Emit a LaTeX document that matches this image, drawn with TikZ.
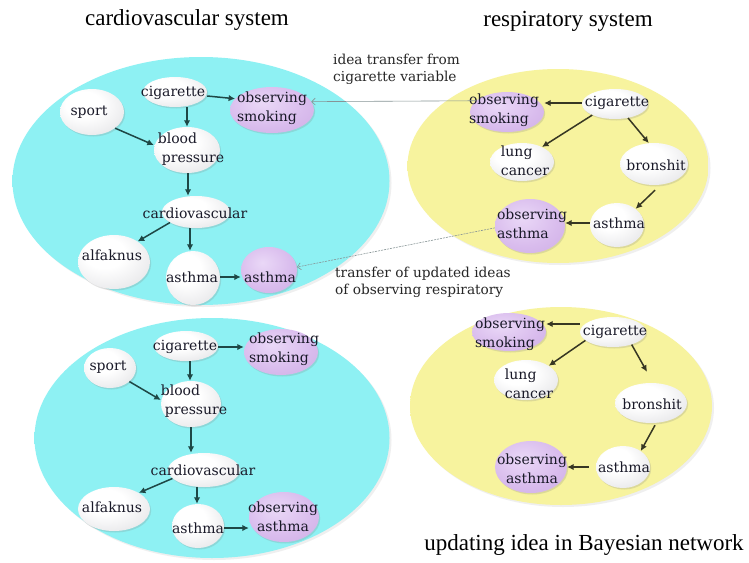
\documentclass[tikz,border=0pt]{standalone}
\usepackage{fontspec}
\setmainfont{Liberation Serif}
\newfontfamily\nodefont{DejaVu Serif}
\usetikzlibrary{shapes.geometric,arrows.meta,shadows}
\definecolor{cyF}{RGB}{142,241,243}
\definecolor{cyE}{RGB}{112,206,210}
\definecolor{yeF}{RGB}{247,243,158}
\definecolor{yeE}{RGB}{222,214,124}
\definecolor{pIn}{RGB}{234,216,247}
\definecolor{pMid}{RGB}{217,188,237}
\definecolor{pOut}{RGB}{196,160,222}
\definecolor{gOut}{RGB}{190,190,196}
\definecolor{arC}{RGB}{30,72,70}
\definecolor{arR}{RGB}{55,55,35}
\definecolor{txC}{RGB}{25,25,40}
\definecolor{lnC}{RGB}{135,148,150}
\pgfdeclareradialshading{wglossy}{\pgfpoint{-8bp}{10bp}}{color(0bp)=(white); color(14bp)=(white); color(40bp)=(gOut!45); color(58bp)=(gOut); color(80bp)=(gOut)}
\pgfdeclareradialshading{pglossy}{\pgfpoint{-6bp}{8bp}}{color(0bp)=(pIn); color(24bp)=(pMid); color(58bp)=(pOut); color(80bp)=(pOut)}
\pgfdeclareradialshading{cybig}{\pgfpointorigin}{color(0bp)=(cyF); color(45bp)=(cyF); color(49bp)=(cyE); color(50bp)=(cyE); color(75bp)=(cyE)}
\pgfdeclareradialshading{yebig}{\pgfpointorigin}{color(0bp)=(yeF); color(45bp)=(yeF); color(49bp)=(yeE); color(50bp)=(yeE); color(75bp)=(yeE)}
\begin{document}
\begin{tikzpicture}[x=1pt,y=-1pt,
  bigc/.style={ellipse, inner sep=0pt, shade, shading=cybig, drop shadow={opacity=0.12,shadow xshift=2pt,shadow yshift=-2pt}},
  bigy/.style={ellipse, inner sep=0pt, shade, shading=yebig, drop shadow={opacity=0.12,shadow xshift=2pt,shadow yshift=-2pt}},
  wn/.style={ellipse, inner sep=0pt, shade, shading=wglossy, drop shadow={opacity=0.22,shadow xshift=1.2pt,shadow yshift=-1.5pt}},
  pn/.style={ellipse, inner sep=0pt, shade, shading=pglossy, drop shadow={opacity=0.22,shadow xshift=1.2pt,shadow yshift=-1.5pt}},
  sz/.style 2 args={minimum width=#1pt, minimum height=#2pt},
  tx/.style={font=\nodefont\fontsize{14}{19}\selectfont, text=txC, inner sep=0pt, align=left},
  txc/.style={tx, align=center},
  ttl/.style={font=\fontsize{23}{27}\selectfont, text=black, inner sep=0pt},
  ann/.style={font=\nodefont\fontsize{13.7}{17}\selectfont, text=black!85, inner sep=0pt, align=left},
  arA/.style={draw=arC, line width=1.5pt, -{Latex[length=6.5pt,width=6.5pt]}},
  arB/.style={draw=arR, line width=1.5pt, -{Latex[length=6.5pt,width=6.5pt]}},
  xfer/.style={draw=lnC, line width=0.6pt, -{Straight Barb[length=3.5pt,width=7pt]}},
  xferd/.style={xfer, dash pattern=on 2pt off 1pt}
]
\useasboundingbox (0,0) rectangle (749,562);
\fill[white] (0,0) rectangle (749,562);

% titles
\node[ttl, anchor=base] (tCv) at (187,25) {cardiovascular system};
\node[ttl, anchor=base] (tRes) at (568,26) {respiratory system};
\node[ttl, anchor=base] (tUpd) at (584,550) {updating idea in Bayesian network};

% containers
\node[bigc, sz={377}{248}] (cvTop) at (201,181) {};
\node[bigc, sz={355}{240}] (cvBot) at (212,438) {};
\node[bigy, sz={301}{194}] (resTop) at (558,166) {};
\node[bigy, sz={302}{198}] (resBot) at (561,406) {};

% ---------- panel A: cardiovascular (top)
\node[wn, sz={64}{46}] (A_sport) at (92,112) {};
\node[wn, sz={64}{30}] (A_cig) at (175,92) {};
\node[pn, sz={84}{46}] (A_obs) at (272,110) {};
\node[wn, sz={66}{46}] (A_bp) at (187,150) {};
\node[wn, sz={68}{32}] (A_cv) at (196,212) {};
\node[wn, sz={72}{54}] (A_alf) at (114,262) {};
\node[wn, sz={54}{54}] (A_as) at (193,278) {};
\node[pn, sz={56}{46}] (A_asp) at (269,270) {};

\node[tx] (A_sport_t) at (89,112) {sport};
\node[tx] (A_cig_t) at (173,93) {cigarette};
\node[tx] (A_obs_t) at (272,108) {observing\\smoking};
\node[tx] (A_bp_t) at (191,149) {blood\\\hspace{4pt}pressure};
\node[tx] (A_cv_t) at (195,213) {cardiovascular};
\node[tx] (A_alf_t) at (112,255) {alfaknus};
\node[tx] (A_as_t) at (192,277) {asthma};
\node[tx] (A_asp_t) at (270,277) {asthma};

\draw[arA] ([yshift=-4pt]A_cig.east) -- (A_obs.163);
\draw[arA] ([xshift=12pt]A_cig.south) -- (A_bp.north);
\draw[arA] (A_sport.-35) -- ([yshift=5pt]A_bp.west);
\draw[arA] ([xshift=1pt]A_bp.south) -- ([xshift=-8pt]A_cv.north);
\draw[arA] (A_cv.-158) -- (A_alf.41);
\draw[arA] ([xshift=-6pt]A_cv.south) -- ([xshift=-3pt]A_as.north);
\draw[arA] ([yshift=1pt]A_as.east) -- ([yshift=-7pt]A_asp.west);

% ---------- panel B: cardiovascular (bottom)
\node[wn, sz={64}{30}] (B_cig) at (186,346) {};
\node[pn, sz={74}{46}] (B_obs) at (281,352) {};
\node[wn, sz={52}{40}] (B_sport) at (110,368) {};
\node[wn, sz={60}{46}] (B_bp) at (191,404) {};
\node[wn, sz={72}{34}] (B_cv) at (204,470) {};
\node[wn, sz={72}{44}] (B_alf) at (114,509) {};
\node[wn, sz={52}{44}] (B_as) at (198,526) {};
\node[pn, sz={70}{50}] (B_oa) at (284,517) {};

\node[tx] (B_cig_t) at (185,347) {cigarette};
\node[tx] (B_obs_t) at (284,349) {observing\\smoking};
\node[tx] (B_sport_t) at (108,367) {sport};
\node[tx] (B_bp_t) at (194,401) {blood\\\hspace{4pt}pressure};
\node[tx] (B_cv_t) at (203,470) {cardiovascular};
\node[tx] (B_alf_t) at (112,507) {alfaknus};
\node[tx] (B_as_t) at (198,528) {asthma};
\node[txc] (B_oa_t) at (283,517) {observing\\asthma};

\draw[arA] ([yshift=-1pt]B_cig.east) -- ([yshift=5pt]B_obs.west);
\draw[arA] ([xshift=4pt]B_cig.south) -- ([xshift=-1pt]B_bp.north);
\draw[arA] (B_sport.-35) -- ([yshift=4pt]B_bp.west);
\draw[arA] (B_bp.south) -- ([xshift=-13pt]B_cv.north);
\draw[arA] (B_cv.-165) -- (B_alf.33);
\draw[arA] ([xshift=-7pt]B_cv.south) -- ([xshift=-1pt]B_as.north);
\draw[arA] ([yshift=-2pt]B_as.east) -- ([yshift=-11pt]B_oa.west);

% ---------- panel C: respiratory (top)
\node[pn, sz={74}{40}] (C_os) at (507,112) {};
\node[wn, sz={66}{30}] (C_cig) at (615,104) {};
\node[wn, sz={64}{38}] (C_lc) at (522,162) {};
\node[wn, sz={68}{42}] (C_br) at (654,164) {};
\node[wn, sz={54}{44}] (C_as) at (617,225) {};
\node[pn, sz={70}{54}] (C_oa) at (530,226) {};

\node[tx] (C_os_t) at (504,110) {observing\\smoking};
\node[tx] (C_cig_t) at (617,103) {cigarette};
\node[tx] (C_lc_t) at (525,161) {lung\\cancer};
\node[tx] (C_br_t) at (656,165) {bronshit};
\node[tx] (C_as_t) at (619,223) {asthma};
\node[tx] (C_oa_t) at (532,224) {observing\\asthma};

\draw[arB] ([yshift=1pt]C_cig.west) -- ([yshift=9pt]C_os.east);
\draw[arB] (C_cig.-154) -- (C_lc.37);
\draw[arB] (C_cig.-47) -- (C_br.104);
\draw[arB] ([xshift=1pt,yshift=-5pt]C_br.south) -- (C_as.41);
\draw[arB] ([yshift=2pt]C_as.west) -- ([yshift=3pt]C_oa.east);

% ---------- panel D: respiratory (bottom)
\node[pn, sz={74}{38}] (D_os) at (509,332) {};
\node[wn, sz={66}{30}] (D_cig) at (613,332) {};
\node[wn, sz={64}{40}] (D_lc) at (526,380) {};
\node[wn, sz={72}{40}] (D_br) at (651,403) {};
\node[wn, sz={54}{42}] (D_as) at (623,467) {};
\node[pn, sz={72}{52}] (D_oa) at (531,467) {};

\node[tx] (D_os_t) at (510,334) {observing\\smoking};
\node[tx] (D_cig_t) at (615,332) {cigarette};
\node[tx] (D_lc_t) at (529,384) {lung\\cancer};
\node[tx] (D_br_t) at (652,404) {bronshit};
\node[tx] (D_as_t) at (624,467) {asthma};
\node[txc] (D_oa_t) at (532,469) {observing\\asthma};

\draw[arB] ([yshift=8pt]D_cig.west) -- ([yshift=8pt]D_os.east);
\draw[arB] (D_cig.-163) -- (D_lc.32);
\draw[arB] (D_cig.-34) -- ([xshift=-4pt,yshift=11pt]D_br.north);
\draw[arB] ([xshift=4pt,yshift=-2pt]D_br.south) -- (D_as.42);
\draw[arB] ([xshift=-7pt]D_as.west) -- (D_oa.east);

% ---------- transfers between systems
\draw[xfer] (C_os.160) -- (A_obs.12);
\draw[xferd] (C_oa.183) -- (A_asp.6);
\node[ann, anchor=west] (noteTop) at (333,69) {idea transfer from\\cigarette variable};
\node[ann, anchor=west] (noteBot) at (335,282) {transfer of updated ideas\\of observing respiratory};
\end{tikzpicture}
\end{document}
